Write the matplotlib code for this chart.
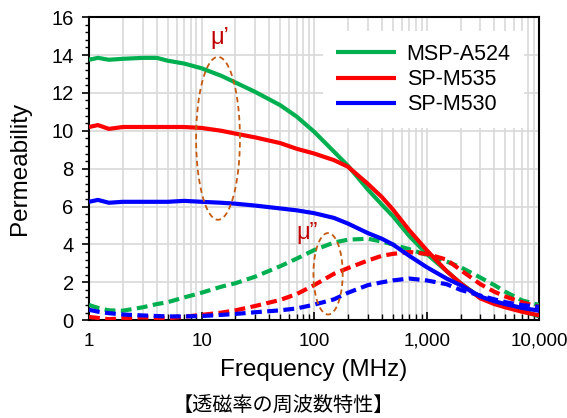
import numpy as np
import matplotlib
matplotlib.use('Agg')
import matplotlib.pyplot as plt
from matplotlib.ticker import FixedLocator, FixedFormatter, LogLocator, NullFormatter, MultipleLocator

plt.rcParams['font.family'] = ['Liberation Sans', 'DejaVu Sans']

# frequency points (MHz)
freq = [1, 1.2, 1.5, 2, 3, 4, 5, 7, 10, 15, 20, 30, 50, 70, 100, 150, 200, 300,
        400, 500, 700, 1000, 1500, 2000, 3000, 4000, 5000, 7000, 10000]

# mu' (real part)
a524_re = [13.75, 13.85, 13.75, 13.8, 13.85, 13.85, 13.7, 13.55, 13.3, 12.9, 12.55, 12.05,
           11.35, 10.75, 9.95, 8.9, 8.15, 6.9, 6.1, 5.5, 4.45, 3.5, 2.6, 1.95, 1.2, 0.9,
           0.72, 0.5, 0.2]
m535_re = [10.2, 10.3, 10.1, 10.2, 10.2, 10.2, 10.2, 10.2, 10.15, 10.0, 9.85, 9.65, 9.35,
           9.05, 8.8, 8.45, 8.1, 7.2, 6.5, 5.85, 4.75, 3.7, 2.6, 1.95, 1.15, 0.85, 0.68,
           0.45, 0.25]
m530_re = [6.25, 6.35, 6.2, 6.25, 6.25, 6.25, 6.25, 6.3, 6.25, 6.2, 6.15, 6.05, 5.9, 5.8,
           5.65, 5.4, 5.1, 4.6, 4.3, 4.0, 3.4, 2.8, 2.2, 1.85, 1.25, 1.0, 0.85, 0.65, 0.5]

# mu'' (imaginary part)
a524_im = [0.8, 0.65, 0.52, 0.5, 0.68, 0.85, 0.95, 1.2, 1.45, 1.77, 1.95, 2.3, 2.85, 3.25,
           3.7, 4.1, 4.25, 4.3, 4.15, 4.0, 3.75, 3.45, 3.1, 2.8, 2.25, 1.85, 1.5, 1.05, 0.8]
m535_im = [0.17, 0.12, 0.05, 0.1, 0.15, 0.12, 0.1, 0.18, 0.28, 0.4, 0.52, 0.75, 1.07, 1.38,
           1.85, 2.45, 2.75, 3.15, 3.4, 3.5, 3.6, 3.5, 3.2, 2.65, 1.9, 1.5, 1.25, 0.95, 0.7]
m530_im = [0.55, 0.45, 0.37, 0.3, 0.25, 0.22, 0.2, 0.2, 0.22, 0.28, 0.33, 0.42, 0.52, 0.62,
           0.82, 1.1, 1.45, 1.85, 2.0, 2.1, 2.2, 2.1, 1.9, 1.6, 1.3, 1.1, 0.95, 0.8, 0.7]

names = ['MSP-A524', 'SP-M535', 'SP-M530']
colors = ['#00B050', '#FF0000', '#0000FF']

xticks = [1, 10, 100, 1000, 10000]
xticklabels = ['1', '10', '100', '1,000', '10,000']
yticks = [0, 2, 4, 6, 8, 10, 12, 14, 16]

fig = plt.figure(figsize=(5.67, 4.18), dpi=100)
ax = fig.add_axes([0.157, 0.234, 0.794, 0.725])

for re, im, c, n in zip([a524_re, m535_re, m530_re], [a524_im, m535_im, m530_im], colors, names):
    ax.plot(freq, re, color=c, lw=3, label=n, solid_capstyle='butt', zorder=3)
    ax.plot(freq, im, color=c, lw=3, linestyle=(0, (2.6, 1.3)), zorder=3)

ax.set_xscale('log')
ax.set_xlim(1, 10000)
ax.set_ylim(0, 16)
ax.xaxis.set_major_locator(FixedLocator(xticks))
ax.xaxis.set_major_formatter(FixedFormatter(xticklabels))
ax.xaxis.set_minor_locator(LogLocator(base=10, subs=np.arange(2, 10)))
ax.xaxis.set_minor_formatter(NullFormatter())
ax.set_yticks(yticks)
ax.yaxis.set_minor_locator(MultipleLocator(0.4))

ax.grid(True, which='both', axis='x', color='#D9D9D9', lw=1.2, zorder=0)
ax.grid(True, which='major', axis='y', color='#D9D9D9', lw=1.2, zorder=0)
ax.tick_params(axis='x', which='both', direction='in', labelsize=13.5, pad=9)
ax.tick_params(axis='x', which='major', length=6, width=1.2)
ax.tick_params(axis='x', which='minor', length=4, width=1)
ax.tick_params(axis='y', which='major', direction='out', length=5, width=1.2,
               labelsize=14.5, pad=6)
ax.tick_params(axis='y', which='minor', direction='out', length=3, width=1)
for s in ax.spines.values():
    s.set_linewidth(1.5)

ax.set_xlabel('Frequency (MHz)', fontsize=17.5, labelpad=7)
ax.set_ylabel('Permeability', fontsize=17.5, labelpad=15)

leg = ax.legend(loc='upper left', bbox_to_anchor=(0.495, 0.99), fontsize=15.5,
                handlelength=2.8, handletextpad=0.5, labelspacing=0.2,
                frameon=True, fancybox=False, framealpha=1, borderpad=0.6)
leg.get_frame().set_edgecolor('none')
leg.get_frame().set_facecolor('white')
leg.set_zorder(4)

# ellipses around mu' and mu''
t = np.linspace(0, 2 * np.pi, 200)
ell_col = '#C55A11'
ax.plot(10 ** (np.log10(14) + 0.195 * np.cos(t)), 9.6 + 4.3 * np.sin(t),
        color=ell_col, lw=1.3, linestyle=(0, (3, 2)), zorder=5)
ax.plot(10 ** (np.log10(133) + 0.13 * np.cos(t)), 2.45 + 2.15 * np.sin(t),
        color=ell_col, lw=1.3, linestyle=(0, (3, 2)), zorder=5)
ax.text(14.5, 14.9, 'μ’', color='#C00000', fontsize=17, ha='center', va='center')
ax.text(86, 4.6, 'μ”', color='#C00000', fontsize=17, ha='center', va='center')

fig.text(0.5, 0.03, '【透磁率の周波数特性】', ha='center', va='center', fontsize=14.5,
         family=['Noto Sans CJK JP', 'DejaVu Sans'])

fig.savefig('out.png', dpi=100)
